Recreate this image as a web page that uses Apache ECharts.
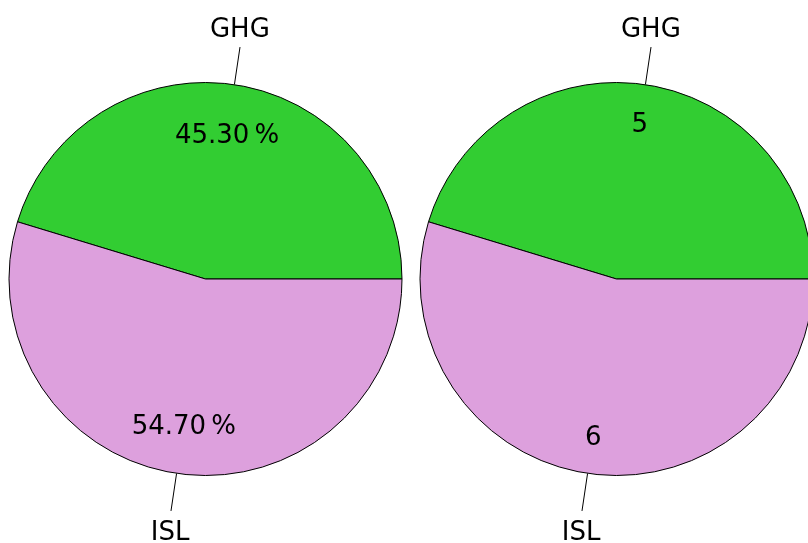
<!DOCTYPE html>
<html>
<head>
<meta charset="utf-8">
<script src="https://cdn.jsdelivr.net/npm/echarts@6/dist/echarts.min.js"></script>
<style>
html,body{margin:0;padding:0;background:#fff;}
#chart{width:808px;height:543px;}
</style>
</head>
<body>
<div id="chart"></div>
<script>
const categories = ['GHG', 'ISL'];
const values = [5.3, 6.4];
const colors = ['#32CD32', '#DDA0DD'];

const total = values.reduce((a, b) => a + b, 0);
const pctLabels = values.map(v => (v / total * 100).toFixed(2) + '\u2009%');
const valLabels = values.map(v => String(Math.round(v)));

const R = 196.5;
const FONT = 'DejaVu Sans';
const FS = 26;
const nameOffsets = [[-3, 2], [2, 3]];

function pieData(extra) {
  return categories.map((c, i) => Object.assign({ name: c, value: values[i] }, extra ? extra(i) : {}));
}

function makePie(cx, innerLabels, innerMid) {
  const center = [cx, 279];
  const common = {
    type: 'pie', center: center, startAngle: 0, clockwise: false,
    avoidLabelOverlap: false, animation: false,
    labelLayout: { hideOverlap: false }
  };
  return [
    Object.assign({}, common, {
      radius: [0, R],
      data: pieData(i => ({ itemStyle: { color: colors[i] } })),
      itemStyle: { borderColor: '#000', borderWidth: 1 },
      label: { show: true, position: 'outside', formatter: '.', fontSize: 1, color: 'rgba(0,0,0,0)' },
      labelLine: { show: true, length: 38, length2: 0, lineStyle: { color: '#000', width: 1 } }
    }),
    Object.assign({}, common, {
      radius: [2 * innerMid - R, R],
      silent: true, z: 3,
      data: pieData(),
      itemStyle: { color: 'rgba(0,0,0,0)', borderWidth: 0 },
      label: { show: true, position: 'inside', rotate: 0, color: '#000', fontSize: FS, fontFamily: FONT,
        offset: [0, 2.5],
        formatter: p => innerLabels[p.dataIndex] },
      labelLine: { show: false }
    }),
    Object.assign({}, common, {
      radius: [237, 265],
      silent: true, z: 3,
      data: pieData(i => ({ label: { offset: nameOffsets[i] } })),
      itemStyle: { color: 'rgba(0,0,0,0)', borderWidth: 0 },
      label: { show: true, position: 'inside', rotate: 0, color: '#000', fontSize: FS, fontFamily: FONT,
        formatter: '{b}' },
      labelLine: { show: false }
    })
  ];
}

const chart = echarts.init(document.getElementById('chart'), null, { renderer: 'canvas' });
chart.setOption({
  animation: false,
  backgroundColor: '#fff',
  series: [].concat(
    makePie(205.5, pctLabels, 144),
    makePie(616.5, valLabels, 155)
  )
});
</script>
</body>
</html>
